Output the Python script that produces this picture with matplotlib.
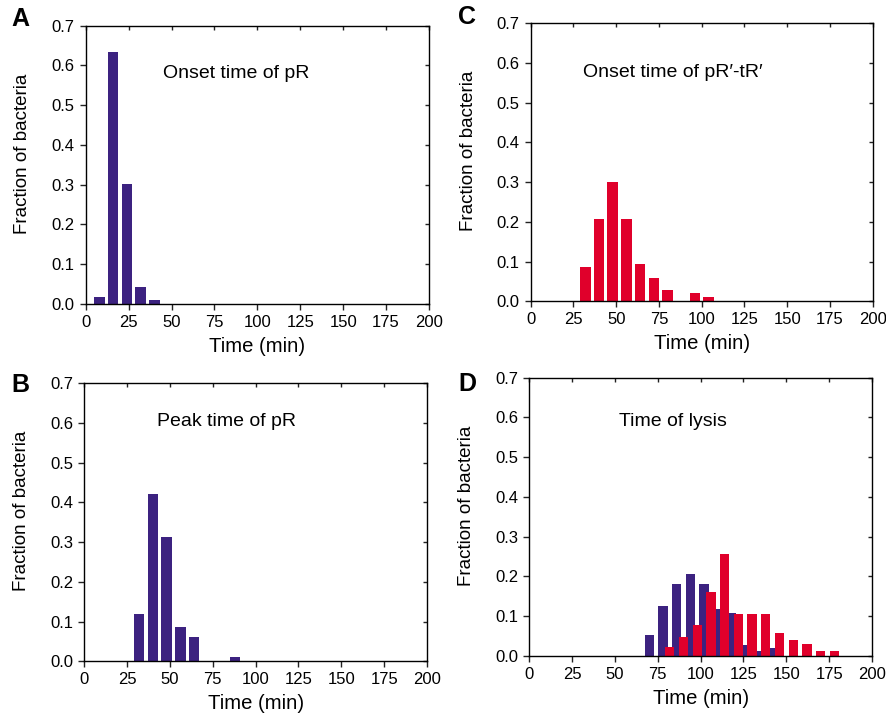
import numpy as np
import matplotlib
matplotlib.use("Agg")
import matplotlib.pyplot as plt

plt.rcParams['font.family'] = ['Liberation Sans', 'DejaVu Sans']

BLUE = "#3c2280"
RED = "#e0002b"

# panel A: onset time of pR
onset_pr_t = [8, 16, 24, 32, 40]
onset_pr_f = [0.018, 0.635, 0.302, 0.043, 0.009]

# panel B: peak time of pR
peak_pr_t = [32, 40, 48, 56, 64, 88]
peak_pr_f = [0.119, 0.421, 0.313, 0.086, 0.061, 0.011]

# panel C: onset time of pR'-tR'
onset_tr_t = [32, 40, 48, 56, 64, 72, 80, 96, 104]
onset_tr_f = [0.086, 0.207, 0.300, 0.207, 0.095, 0.059, 0.029, 0.021, 0.011]

# panel D: time of lysis (two series)
lysis_blue_t = [70, 78, 86, 94, 102, 110, 118, 126, 134, 142]
lysis_blue_f = [0.052, 0.126, 0.181, 0.206, 0.181, 0.117, 0.108, 0.028, 0.012, 0.020]
lysis_red_t = [82, 90, 98, 106, 114, 122, 130, 138, 146, 154, 162, 170, 178]
lysis_red_f = [0.023, 0.049, 0.077, 0.161, 0.256, 0.105, 0.105, 0.105, 0.059,
               0.039, 0.030, 0.012, 0.012]

W, H = 886, 717
fig = plt.figure(figsize=(W / 100, H / 100), dpi=100)


def make_axes(left, top, right, bottom):
    return fig.add_axes([left / W, 1 - bottom / H, (right - left) / W, (bottom - top) / H])


def style(ax, label, title, tx, ty, lx, ly):
    ax.set_xlim(0, 200)
    ax.set_ylim(0, 0.7)
    ax.set_xticks(np.arange(0, 201, 25))
    ax.set_yticks(np.arange(0, 0.71, 0.1))
    ax.set_yticklabels(["%.1f" % v for v in np.arange(0, 0.71, 0.1)])
    ax.tick_params(axis="both", direction="out", length=4.5, width=1,
                   labelsize=12, pad=3.5, colors="#222222", labelcolor="black")
    ax.tick_params(top=True, right=True)
    # top and right ticks point inward
    for t in ax.xaxis.get_major_ticks():
        t.tick2line.set_marker(3)
        t.tick2line.set_markersize(3)
    for t in ax.yaxis.get_major_ticks():
        t.tick2line.set_marker(0)
        t.tick2line.set_markersize(3)
    for s in ax.spines.values():
        s.set_linewidth(1)
    ax.set_xlabel("Time (min)", fontsize=14.6, labelpad=5)
    ax.set_ylabel("Fraction of bacteria", fontsize=13.5)
    ax.yaxis.set_label_coords(-0.158, 0.54)
    ax.text(tx, ty, title, fontsize=14, va="center", ha="left")
    fig.text(lx / W, 1 - ly / H, label, fontsize=18, fontweight="bold", ha="center", va="center")


ax_a = make_axes(85.7, 25.7, 429, 304)
ax_a.bar(onset_pr_t, onset_pr_f, width=6.2, color=BLUE)
style(ax_a, "A", "Onset time of pR", 45, 0.58, 20.5, 19)

ax_c = make_axes(530.7, 23.3, 872.7, 301.3)
ax_c.bar(onset_tr_t, onset_tr_f, width=6.2, color=RED)
style(ax_c, "C", "Onset time of pR\u2032-tR\u2032", 30.4, 0.576, 467, 17.5)

ax_b = make_axes(84.3, 383.3, 427, 661.3)
ax_b.bar(peak_pr_t, peak_pr_f, width=6.2, color=BLUE)
style(ax_b, "B", "Peak time of pR", 42.6, 0.605, 20, 385)

ax_d = make_axes(529.3, 377.7, 872, 656)
ax_d.bar(lysis_blue_t, lysis_blue_f, width=5.4, color=BLUE)
ax_d.bar(lysis_red_t, lysis_red_f, width=5.4, color=RED)
style(ax_d, "D", "Time of lysis", 52.5, 0.591, 467, 384)

fig.savefig("out.png", dpi=100)
